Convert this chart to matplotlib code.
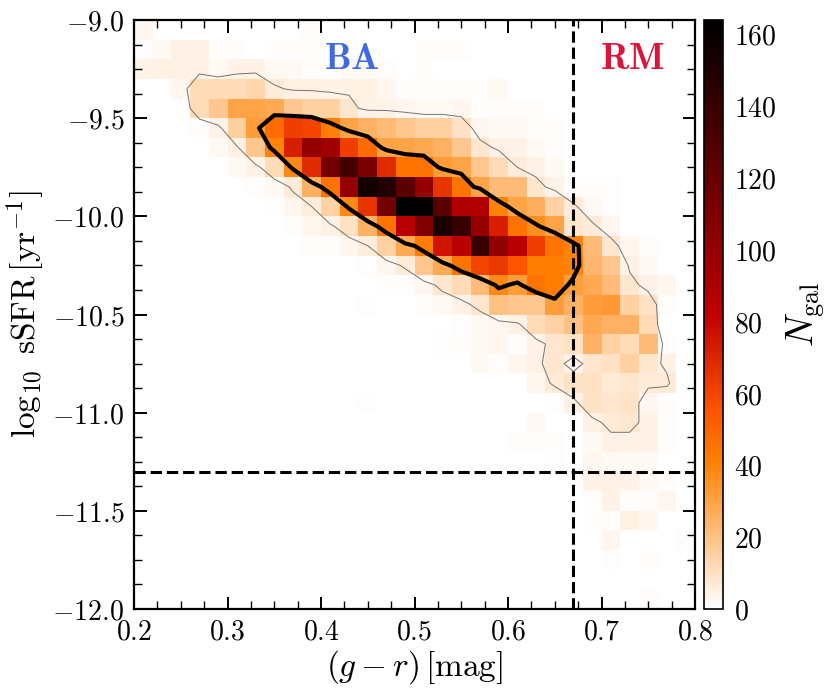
import numpy as np
import matplotlib
matplotlib.use("Agg")
import matplotlib.pyplot as plt
from matplotlib.ticker import MultipleLocator, FuncFormatter

# ---------------- data ----------------
# histogram binning (30 x 30 bins)
x_min, x_bin = 0.2, 0.02
y_max, y_bin = -9.0, 0.1
n_bins = 30

# counts per bin, rows from top (sSFR -9.0) downward, columns from g-r = 0.2
counts_rows = [
    [3,0,0,0,0,0,0,0,0,1,0,0,0,0,0,0,0,0,0,0,0,0,0,0,0,0,0,0,0,0],
    [1,2,4,4,1,1,0,1,1,1,0,0,0,0,0,1,1,1,0,0,0,0,0,0,0,0,0,0,0,0],
    [4,5,5,4,2,4,4,2,2,1,0,2,2,1,0,1,0,0,0,0,0,0,0,0,0,0,0,0,0,0],
    [0,0,3,12,12,12,14,7,5,5,4,5,5,3,1,1,1,1,1,2,0,0,0,0,0,0,0,0,0,0],
    [0,0,0,12,18,30,30,28,18,15,15,8,4,4,3,2,2,3,1,1,1,1,0,0,0,0,0,0,0,0],
    [0,0,0,1,4,16,32,48,62,60,42,30,25,22,18,15,15,10,3,2,2,1,1,0,0,0,0,0,0,0],
    [0,0,0,0,2,5,18,40,72,100,95,62,48,30,30,28,25,18,8,5,4,2,1,0,0,0,0,0,0,0],
    [0,0,0,0,0,2,4,12,38,68,115,135,112,68,45,45,32,30,18,12,6,4,2,0,0,0,0,0,0,0],
    [0,0,0,0,0,0,1,2,7,25,45,100,155,150,125,100,65,45,30,22,22,8,4,1,1,1,0,0,0,0],
    [0,0,0,0,0,0,0,1,3,6,15,38,65,115,164,162,125,88,88,40,30,26,15,7,2,1,0,0,0,0],
    [0,0,0,0,0,0,0,0,1,3,5,10,25,45,85,110,152,140,100,72,45,36,30,8,7,3,0,0,0,0],
    [0,0,0,0,0,0,0,0,0,1,1,3,6,15,28,42,75,85,140,100,85,62,45,40,22,8,3,1,0,0],
    [0,0,0,0,0,0,0,0,0,0,0,0,1,3,7,18,28,45,60,64,55,42,42,40,24,18,5,2,0,0],
    [0,0,0,0,0,0,0,0,0,0,0,0,0,1,1,3,8,12,22,38,32,45,42,32,28,22,8,4,3,0],
    [0,0,0,0,0,0,0,0,0,0,0,0,1,0,0,1,2,4,8,20,18,18,32,25,32,33,15,10,1,0],
    [0,0,0,0,0,0,0,0,0,0,0,0,0,0,0,0,0,1,2,3,5,12,15,20,28,25,25,12,0,0],
    [0,0,0,0,0,0,0,0,0,0,0,0,0,0,0,0,1,1,2,3,1,4,8,10,25,15,12,22,1,0],
    [0,0,0,0,0,0,0,0,0,0,0,0,0,0,0,0,0,0,2,1,3,5,8,4,8,10,15,8,5,0],
    [0,0,0,0,0,0,0,0,0,0,0,0,0,0,0,0,0,0,0,0,0,3,7,9,10,7,8,7,7,0],
    [0,0,0,0,0,0,0,0,0,0,0,0,1,0,0,0,0,0,0,0,0,0,1,5,9,8,9,3,1,0],
    [0,0,0,0,0,0,0,0,0,0,0,0,0,0,0,0,0,0,0,0,0,2,0,0,5,7,8,4,1,0],
    [0,0,0,0,0,0,0,0,0,0,0,0,0,0,0,0,0,0,0,0,1,1,1,0,2,5,4,4,1,0],
    [0,0,0,0,0,0,0,0,0,0,0,0,0,0,0,0,0,0,0,0,0,0,1,0,3,2,2,2,0,0],
    [0,0,0,0,0,0,0,0,0,0,0,0,0,0,0,0,0,0,0,0,0,0,0,0,4,5,4,2,1,0],
    [0,0,0,0,0,0,0,0,0,0,0,0,0,0,0,0,0,0,0,0,0,0,0,0,1,4,1,1,3,0],
    [0,0,0,0,0,0,0,0,0,0,0,0,0,0,0,0,0,0,0,0,0,0,0,0,1,1,5,3,0,0],
    [0,0,0,0,0,0,0,0,0,0,0,0,0,0,0,0,0,0,0,0,0,0,0,0,0,3,0,0,0,1],
    [0,0,0,0,0,0,0,0,0,0,0,0,0,0,0,0,0,0,0,0,0,0,0,0,0,1,0,1,0,0],
    [0,0,0,0,0,0,0,0,0,0,0,0,0,0,0,0,0,0,0,0,0,0,0,0,0,0,0,0,0,0],
    [0,0,0,0,0,0,0,0,0,0,0,0,0,0,0,0,0,0,0,0,0,0,0,0,0,0,0,1,0,0],
]

contour_levels_outer = [6]
contour_levels_inner = [35]
gr_cut = 0.67
ssfr_cut = -11.3
region_labels = ["BA", "RM"]

# ---------------- plotting ----------------
plt.rcParams["mathtext.fontset"] = "cm"
plt.rcParams["font.family"] = "serif"
plt.rcParams["font.serif"] = ["DejaVu Serif"]

H = np.array(counts_rows, dtype=float)[::-1]          # y ascending
x_edges = x_min + x_bin * np.arange(n_bins + 1)
y_edges = (y_max - y_bin * n_bins) + y_bin * np.arange(n_bins + 1)
x_c = 0.5 * (x_edges[:-1] + x_edges[1:])
y_c = 0.5 * (y_edges[:-1] + y_edges[1:])

fig = plt.figure(figsize=(8.3, 6.92), dpi=100)
ax = fig.add_axes([134/830, 1 - 609/692, (695-134)/830, (609-20)/692])
cax = fig.add_axes([704/830, 1 - 609/692, 19/830, (609-20)/692])

mesh = ax.pcolormesh(x_edges, y_edges, H, cmap="gist_heat_r",
                     vmin=0, vmax=H.max(), shading="flat")
ax.contour(x_c, y_c, H, levels=contour_levels_outer, colors="0.45",
           linewidths=0.7)
ax.contour(x_c, y_c, H, levels=contour_levels_inner, colors="k",
           linewidths=3.0)

ax.axvline(gr_cut, color="k", ls="--", lw=2.2)
ax.axhline(ssfr_cut, color="k", ls="--", lw=2.2)

ax.text(0.433, -9.2, r"$\mathbf{%s}$" % region_labels[0], color="royalblue",
        fontsize=27, ha="center", va="center")
ax.text(0.733, -9.2, r"$\mathbf{%s}$" % region_labels[1], color="crimson",
        fontsize=27, ha="center", va="center")

ax.set_xlim(0.2, 0.8)
ax.set_ylim(-12.0, -9.0)
ax.xaxis.set_major_locator(MultipleLocator(0.1))
ax.xaxis.set_minor_locator(MultipleLocator(0.025))
ax.yaxis.set_major_locator(MultipleLocator(0.5))
ax.yaxis.set_minor_locator(MultipleLocator(0.125))
fmt = FuncFormatter(lambda v, p: r"$%.1f$" % v)
ax.xaxis.set_major_formatter(fmt)
ax.yaxis.set_major_formatter(fmt)
ax.tick_params(which="both", direction="in", top=True, right=True,
               labelsize=20)
ax.tick_params(which="major", length=9, width=1.4, pad=7)
ax.tick_params(which="minor", length=5.5, width=1.0)
for s in ax.spines.values():
    s.set_linewidth(1.6)

ax.set_xlabel(r"$(g-r)\,[\mathrm{mag}]$", fontsize=24, labelpad=2)
ax.set_ylabel(r"$\log_{10}\ \mathrm{sSFR}\,[\mathrm{yr}^{-1}]$",
              fontsize=24, labelpad=4)

cb = fig.colorbar(mesh, cax=cax)
cb.set_ticks(np.arange(0, 161, 20))
cb.ax.yaxis.set_major_formatter(FuncFormatter(lambda v, p: r"$%d$" % v))
cb.ax.tick_params(length=0, labelsize=20, pad=8)
cb.outline.set_linewidth(1.2)
cb.set_label(r"$N_{\rm gal}$", fontsize=27, labelpad=6)

fig.savefig("out.png", dpi=100)
